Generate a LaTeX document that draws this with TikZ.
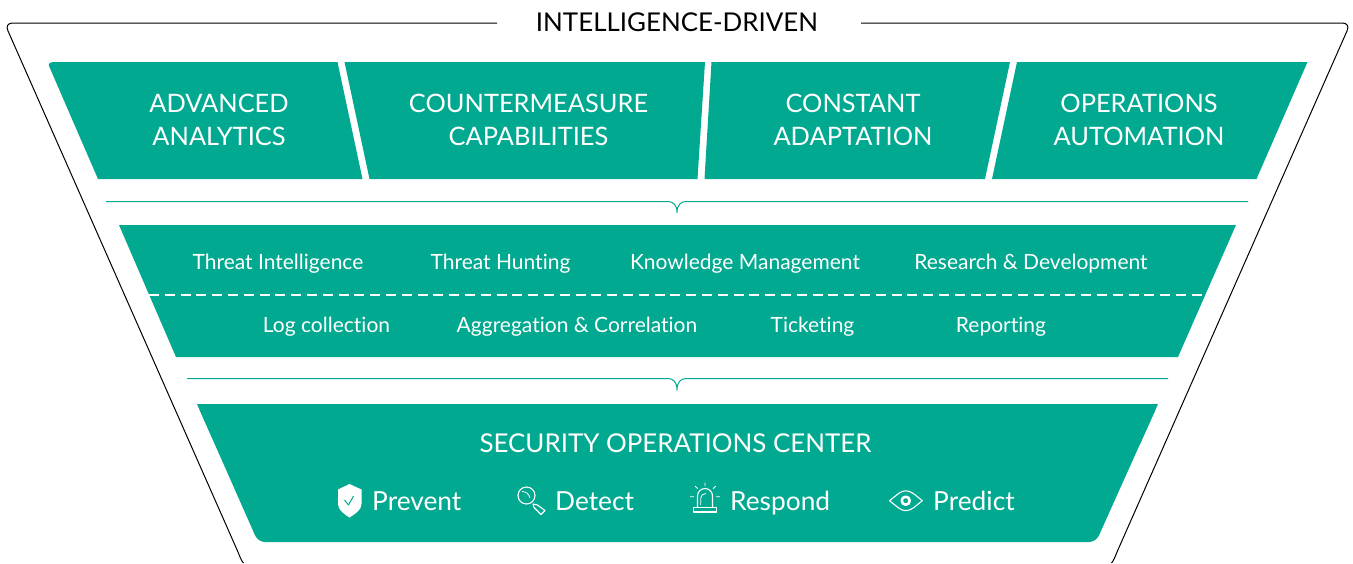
\documentclass[tikz,border=0pt]{standalone}
\usepackage{fontspec}
\setmainfont{Lato}[Ligatures=NoCommon]
\definecolor{socgreen}{HTML}{00A98F}
\tikzset{
	panel/.style={fill=socgreen, draw=none},
	bigtext/.style={text=white, align=center, font=\fontsize{25.4}{33}\selectfont},
	smalltext/.style={text=white, anchor=base, font=\fontsize{21}{24}\selectfont},
	verbtext/.style={text=white, anchor=base west, inner sep=0pt, font=\fontsize{26.3}{30}\selectfont},
	brace/.style={draw=socgreen, line width=1pt},
	icon/.style={draw=white, line width=1.1pt}
}
\begin{document}
\begin{tikzpicture}[x=1pt, y=-1pt, line join=round]
	\useasboundingbox (0,0) rectangle (1353,563);
	\coordinate (TL) at (497,23);
	\coordinate (CL) at (4.5,23);
	\coordinate (BL) at (238,552);
	\coordinate (EL) at (243.5,563);
	\coordinate (TR) at (861,23);
	\coordinate (CR) at (1350.5,23);
	\coordinate (BR) at (1117,552);
	\coordinate (ER) at (1111.5,563);
	\draw[line width=1pt, rounded corners=8pt] (TL)--(CL)--(BL);
	\draw[line width=1pt, rounded corners=8pt] (TR)--(CR)--(BR);
	\draw[line width=1pt] (BL) .. controls (240,557) and (241.5,561) .. (EL);
	\draw[line width=1pt] (BR) .. controls (1115,557) and (1113.5,561) .. (ER);
	% top row
	\coordinate (A1) at (49,66);
	\coordinate (A2) at (337.5,62);
	\coordinate (A3) at (362.5,179);
	\coordinate (A4) at (98,179);
	\coordinate (B1) at (344.5,62);
	\coordinate (B2) at (705,62);
	\coordinate (B3) at (697.5,179);
	\coordinate (B4) at (369.5,179);
	\coordinate (C1) at (711.5,62);
	\coordinate (C2) at (1010,62);
	\coordinate (C3) at (985,179);
	\coordinate (C4) at (704.5,179);
	\coordinate (D1) at (1017,62);
	\coordinate (D2) at (1307.5,62);
	\coordinate (D3) at (1256.5,179);
	\coordinate (D4) at (992,179);
	\path[panel] (A2)--(A3)--(A4)--(A1) .. controls (48,63.5) and (50,62) .. (55,62)--cycle;
	\path[panel] (B1)--(B2)--(B3)--(B4)--cycle;
	\path[panel] (C1)--(C2)--(C3)--(C4)--cycle;
	\path[panel] (D1)--(D2)--(D3)--(D4)--cycle;
	% middle
	\coordinate (M1) at (119,225);
	\coordinate (M2) at (1236,225);
	\coordinate (M3) at (1178,357);
	\coordinate (M4) at (176,357);
	\coordinate (DL) at (149,295);
	\coordinate (DR) at (1206,295);
	\path[panel] (M1)--(M2)--(M3)--(M4)--cycle;
	\draw[white, line width=1.2pt, dash pattern=on 10pt off 5.8pt] (DL)--(DR);
	% bottom
	\coordinate (S1) at (197,404);
	\coordinate (S2) at (1158,404);
	\coordinate (S3) at (1096,542);
	\coordinate (S4) at (258,542);
	\path[panel, rounded corners=7pt] (S1)--(S2)--(S3)--(S4)--cycle;
	\path[panel] (S1)--(S2)--(1140,444)--(215,444)--cycle;
	% braces
	\coordinate (P1) at (106,201.5);
	\coordinate (P2) at (1248,201.5);
	\coordinate (P3) at (677,212.5);
	\coordinate (Q1) at (187,378.5);
	\coordinate (Q2) at (1168,378.5);
	\coordinate (Q3) at (677,390);
	\draw[brace] (P1)--(668,201.5) .. controls (673,201.5) and (677,205) .. (P3) .. controls (677,205) and (681,201.5) .. (686,201.5)--(P2);
	\draw[brace] (Q1)--(668,378.5) .. controls (673,378.5) and (677,382) .. (Q3) .. controls (677,382) and (681,378.5) .. (686,378.5)--(Q2);
	% texts
	\node[anchor=base, font=\fontsize{25.9}{30}\selectfont] (title) at (677,31) {INTELLIGENCE-DRIVEN};
	\node[bigtext] (advanced) at (219,120) {ADVANCED\\ANALYTICS};
	\node[bigtext] (counter) at (528.5,120) {COUNTERMEASURE\\CAPABILITIES};
	\node[bigtext] (constant) at (853,120) {CONSTANT\\ADAPTATION};
	\node[bigtext] (operations) at (1139,120) {OPERATIONS\\AUTOMATION};
	\node[smalltext] (ti) at (278,269.5) {Threat Intelligence};
	\node[smalltext] (th) at (500.5,269.5) {Threat Hunting};
	\node[smalltext] (km) at (745,269.5) {Knowledge Management};
	\node[smalltext] (rd) at (1031,269.5) {Research \& Development};
	\node[smalltext] (lc) at (326.5,332.5) {Log collection};
	\node[smalltext] (ac) at (577,332.5) {Aggregation \& Correlation};
	\node[smalltext] (tk) at (812.5,332.5) {Ticketing};
	\node[smalltext] (rp) at (1001,332.5) {Reporting};
	\node[anchor=base, text=white, font=\fontsize{25.9}{30}\selectfont] (soc) at (675.5,452) {SECURITY OPERATIONS CENTER};
	\node[verbtext] (prevent) at (372,510.5) {Prevent};
	\node[verbtext] (detect) at (555,510.5) {Detect};
	\node[verbtext] (respond) at (730,510.5) {Respond};
	\node[verbtext] (predict) at (933,510.5) {Predict};
	% shield
	\fill[white] (349.5,484)--(361.5,489.5)--(361.5,504) .. controls (361.5,510) and (355,514) .. (349.5,517.5) .. controls (344,514) and (338,510) .. (338,504)--(338,489.5)--cycle;
	\draw[socgreen, line width=1pt] (344.5,500)--(348.5,505)--(353.5,496);
	% magnifier
	\draw[icon] (526.5,495.5) circle(8.5);
	\draw[icon, line width=.8pt] (522,491.5) .. controls (526,491.5) and (529,494) .. (530,498);
	\draw[icon] (533,504)--(537.5,505)--(545,510.5)--(541,514.5)--(534,507.5)--cycle;
	% siren
	\draw[icon] (693.5,507.5) rectangle (716.5,512);
	\draw[icon] (697.5,507.5)--(697.5,496) arc(180:360:7.5)--(712.5,507.5);
	\draw[icon, line width=.8pt] (700.7,505)--(700.7,498) .. controls (700.7,495.5) and (703,493.5) .. (706,493.5);
	\draw[icon, line width=.8pt] (705,482.5)--(705,486) (695,486)--(697.7,488.7) (715.7,486)--(713,488.7) (690,496.7)--(694,496.7) (716,496.7)--(720,496.7);
	% eye
	\draw[icon] (889.5,500.7) .. controls (898,494) and (901,490.8) .. (905.7,490.8) .. controls (911,490.8) and (914,494) .. (922.3,500.7) .. controls (914,507.4) and (911,510.6) .. (905.7,510.6) .. controls (901,510.6) and (898,507.4) .. (889.5,500.7)--cycle;
	\draw[white, line width=2.6pt] (905.7,500.7) circle(4);
\end{tikzpicture}
\end{document}
